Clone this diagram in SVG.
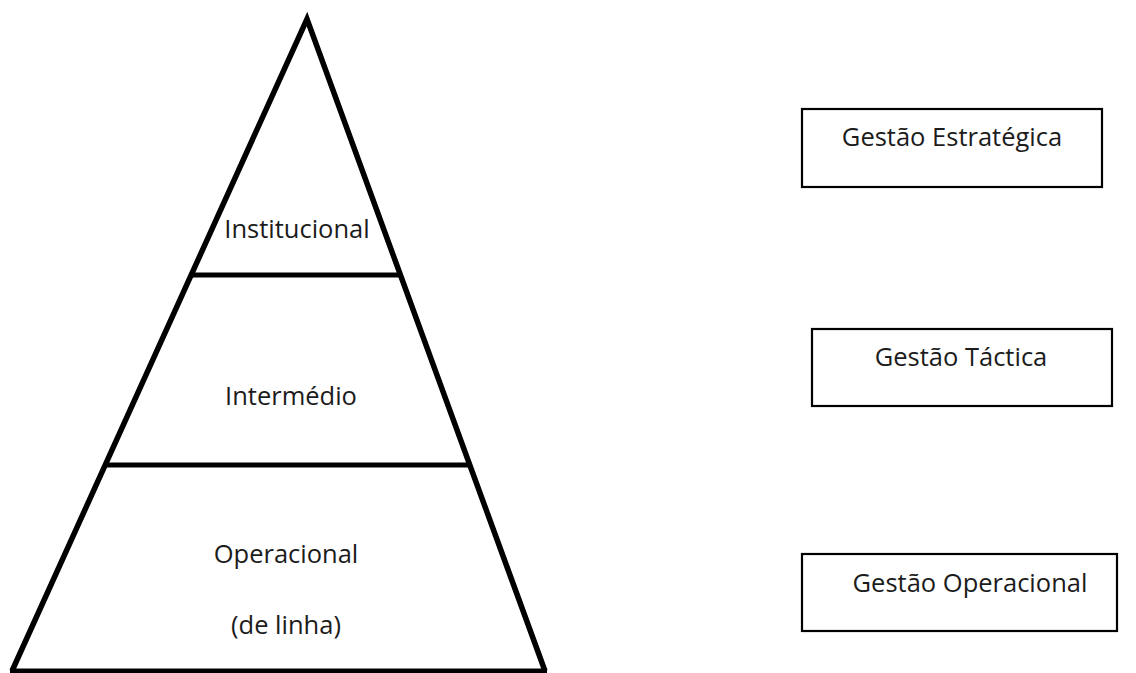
<svg xmlns="http://www.w3.org/2000/svg" width="1136" height="673" viewBox="0 0 1136 673">
  <style>
    .edge { fill: none; stroke: #000; stroke-width: 5.5; stroke-linejoin: miter; stroke-miterlimit: 10; }
    .tier { stroke: #000; stroke-width: 5; }
    .box { fill: #fff; stroke: #000; stroke-width: 2.2; }
    .lbl { font-family: "Open Sans", "Noto Sans", "Liberation Sans", sans-serif; font-size: 25.5px; fill: #1c1c1c; text-anchor: middle; }
  </style>
  <rect width="1136" height="673" fill="#fff"/>

  <!-- Pyramid outline and tier dividers -->
  <g id="pyramid">
    <path class="edge" d="M12,671 L307,19 L545,671"/>
    <line class="tier" x1="10" y1="671" x2="547" y2="671" stroke-width="4"/>
    <line class="tier" x1="191" y1="275" x2="400" y2="275"/>
    <line class="tier" x1="105" y1="465" x2="470" y2="465"/>
  </g>

  <g id="tier-institucional">
    <text class="lbl" x="297" y="238">Institucional</text>
  </g>
  <g id="tier-intermedio">
    <text class="lbl" x="291" y="405">Intermédio</text>
  </g>
  <g id="tier-operacional">
    <text class="lbl" x="286" y="563">Operacional</text>
    <text class="lbl" x="286" y="634">(de linha)</text>
  </g>

  <!-- Management levels -->
  <g id="gestao-estrategica">
    <rect class="box" x="802" y="109" width="300" height="78"/>
    <text class="lbl" x="952" y="146">Gestão Estratégica</text>
  </g>
  <g id="gestao-tactica">
    <rect class="box" x="812" y="329" width="300" height="77"/>
    <text class="lbl" x="961" y="366">Gestão Táctica</text>
  </g>
  <g id="gestao-operacional">
    <rect class="box" x="802" y="554" width="315" height="77"/>
    <text class="lbl" x="970" y="592">Gestão Operacional</text>
  </g>
</svg>
